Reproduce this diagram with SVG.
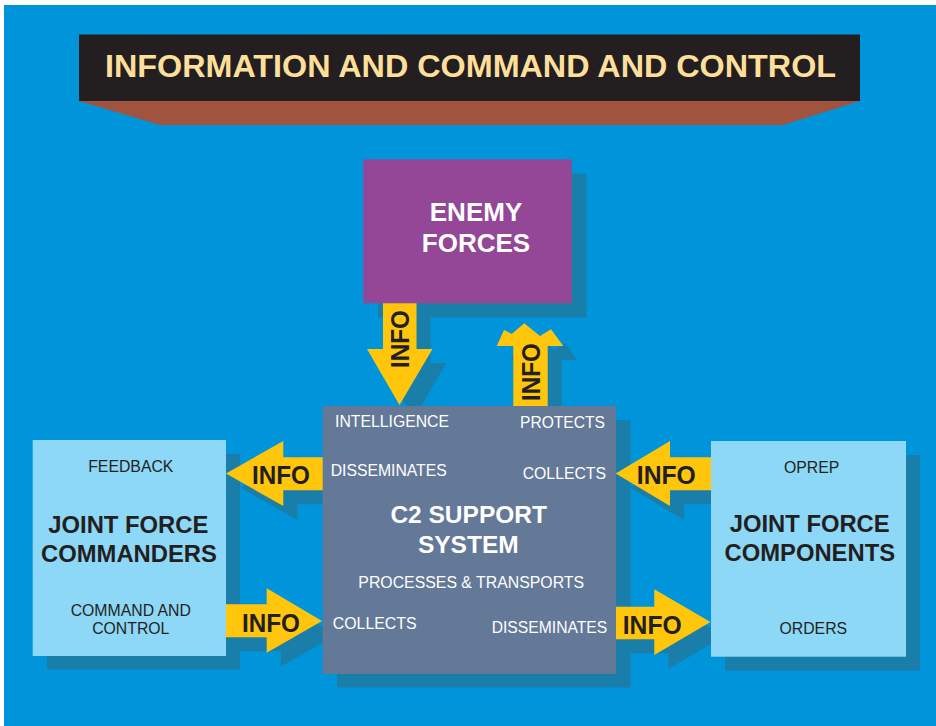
<svg xmlns="http://www.w3.org/2000/svg" xmlns:xlink="http://www.w3.org/1999/xlink" width="936" height="726" viewBox="0 0 936 726">
<style>
.shadow{fill:#1A7EAA}
.arrow{fill:#FFC60B}
.lbl{font-family:"Liberation Sans",Arial,sans-serif;font-weight:bold;font-size:26px;fill:#231F20}
.head{font-family:"Liberation Sans",Arial,sans-serif;font-weight:bold;fill:#231F20;text-anchor:middle}
.sub{font-family:"Liberation Sans",Arial,sans-serif;font-size:15.8px;fill:#231F20;text-anchor:middle}
.wsub{font-family:"Liberation Sans",Arial,sans-serif;font-size:15.8px;fill:#FFFFFF}
.whead{font-family:"Liberation Sans",Arial,sans-serif;font-weight:bold;fill:#FFFFFF;text-anchor:middle}
</style>
<defs>
<polygon id="aDown" points="383,303 416.5,303 416.5,349 432.5,349 399.5,405 367,349 383,349"/>
<polygon id="aUp" points="513.3,406 513.3,346 496.7,346 504,330 511.7,334 524.3,323.3 540,336 551,329.3 563.3,346 547.7,346 547.7,406"/>
<polygon id="aTL" points="323,457.3 283.3,457.3 283.3,441 226,473.5 283.3,506 283.3,490.3 323,490.3"/>
<polygon id="aBL" points="226,604.3 266.7,604.3 266.7,588.3 322,621 266.7,652.7 266.7,637.3 226,637.3"/>
<polygon id="aTR" points="711,457.3 670,457.3 670,441 615.7,473.5 670,506 670,490.3 711,490.3"/>
<polygon id="aBR" points="616,606.7 654.3,606.7 654.3,589.3 710.5,622 654.3,655 654.3,639.3 616,639.3"/>
</defs>
<rect x="0" y="0" width="936" height="726" fill="#FFFFFF"/>
<rect x="4" y="5" width="932" height="721" fill="#0095DA"/>

<g id="title">
<polygon points="79,101 860,101 783,125 160,125" fill="#A0533F"/>
<rect x="79" y="34.5" width="781" height="66.5" fill="#231F20"/>
<text x="470.5" y="76.7" text-anchor="middle" font-family="'Liberation Sans',Arial,sans-serif" font-weight="bold" font-size="32" fill="#FDDF9B" textLength="731" lengthAdjust="spacingAndGlyphs">INFORMATION AND COMMAND AND CONTROL</text>
</g>

<g id="shadows">
<rect class="shadow" x="378" y="173.5" width="208.5" height="144"/>
<rect class="shadow" x="337" y="420" width="293.5" height="267.5"/>
<rect class="shadow" x="47" y="454" width="193" height="215.5"/>
<rect class="shadow" x="725" y="455" width="195" height="215.7"/>
<g transform="translate(14,14)" fill="#1A7EAA">
<use xlink:href="#aDown"/>
<use xlink:href="#aUp"/>
<use xlink:href="#aTL"/>
<use xlink:href="#aBL"/>
<use xlink:href="#aTR"/>
<use xlink:href="#aBR"/>
</g>
</g>

<g id="connectors" fill="#FFC60B">
<use xlink:href="#aDown"/>
<use xlink:href="#aUp"/>
<use xlink:href="#aTL"/>
<use xlink:href="#aBL"/>
<use xlink:href="#aTR"/>
<use xlink:href="#aBR"/>
<text class="lbl" text-anchor="middle" transform="translate(409,339) rotate(-90)" textLength="58" lengthAdjust="spacingAndGlyphs">INFO</text>
<text class="lbl" text-anchor="middle" transform="translate(540,372) rotate(-90)" textLength="58" lengthAdjust="spacingAndGlyphs">INFO</text>
<text class="lbl" x="281" y="484" text-anchor="middle" textLength="58" lengthAdjust="spacingAndGlyphs">INFO</text>
<text class="lbl" x="271" y="631.7" text-anchor="middle" textLength="58" lengthAdjust="spacingAndGlyphs">INFO</text>
<text class="lbl" x="666.3" y="484" text-anchor="middle" textLength="59" lengthAdjust="spacingAndGlyphs">INFO</text>
<text class="lbl" x="652.2" y="634" text-anchor="middle" textLength="59" lengthAdjust="spacingAndGlyphs">INFO</text>
</g>

<g id="enemy">
<rect x="363.3" y="159.3" width="208.4" height="144" fill="#944797"/>
<text class="whead" x="476" y="221" font-size="26">ENEMY</text>
<text class="whead" x="476" y="251.7" font-size="26">FORCES</text>
</g>

<g id="c2">
<rect x="322.7" y="406" width="293.3" height="268" fill="#647898"/>
<text class="wsub" x="335" y="426.7" textLength="114" lengthAdjust="spacingAndGlyphs">INTELLIGENCE</text>
<text class="wsub" x="520" y="428.3" textLength="85" lengthAdjust="spacingAndGlyphs">PROTECTS</text>
<text class="wsub" x="330.7" y="476" textLength="116" lengthAdjust="spacingAndGlyphs">DISSEMINATES</text>
<text class="wsub" x="522.7" y="478.7" textLength="83.3" lengthAdjust="spacingAndGlyphs">COLLECTS</text>
<text class="whead" x="468.7" y="522.7" font-size="24.5">C2 SUPPORT</text>
<text class="whead" x="468.3" y="552.7" font-size="24.5">SYSTEM</text>
<text class="wsub" x="471.2" y="588.3" text-anchor="middle" textLength="225.7" lengthAdjust="spacingAndGlyphs">PROCESSES &amp; TRANSPORTS</text>
<text class="wsub" x="332.7" y="629.3" textLength="84" lengthAdjust="spacingAndGlyphs">COLLECTS</text>
<text class="wsub" x="491.7" y="633.3" textLength="115.6" lengthAdjust="spacingAndGlyphs">DISSEMINATES</text>
</g>

<g id="jfc">
<rect x="32.7" y="440" width="193.3" height="216" fill="#8DD7F7"/>
<text class="sub" x="130.8" y="472">FEEDBACK</text>
<text class="head" x="128.3" y="532.7" font-size="23.8">JOINT FORCE</text>
<text class="head" x="129" y="561.7" font-size="23.8">COMMANDERS</text>
<text class="sub" x="130.8" y="616">COMMAND AND</text>
<text class="sub" x="130.8" y="634">CONTROL</text>
</g>

<g id="jfcomp">
<rect x="711" y="441" width="195" height="215.7" fill="#8DD7F7"/>
<text class="sub" x="811.7" y="472.7">OPREP</text>
<text class="head" x="809.7" y="531.7" font-size="23.8">JOINT FORCE</text>
<text class="head" x="809.8" y="560.7" font-size="23.8">COMPONENTS</text>
<text class="sub" x="813.3" y="634">ORDERS</text>
</g>
</svg>
